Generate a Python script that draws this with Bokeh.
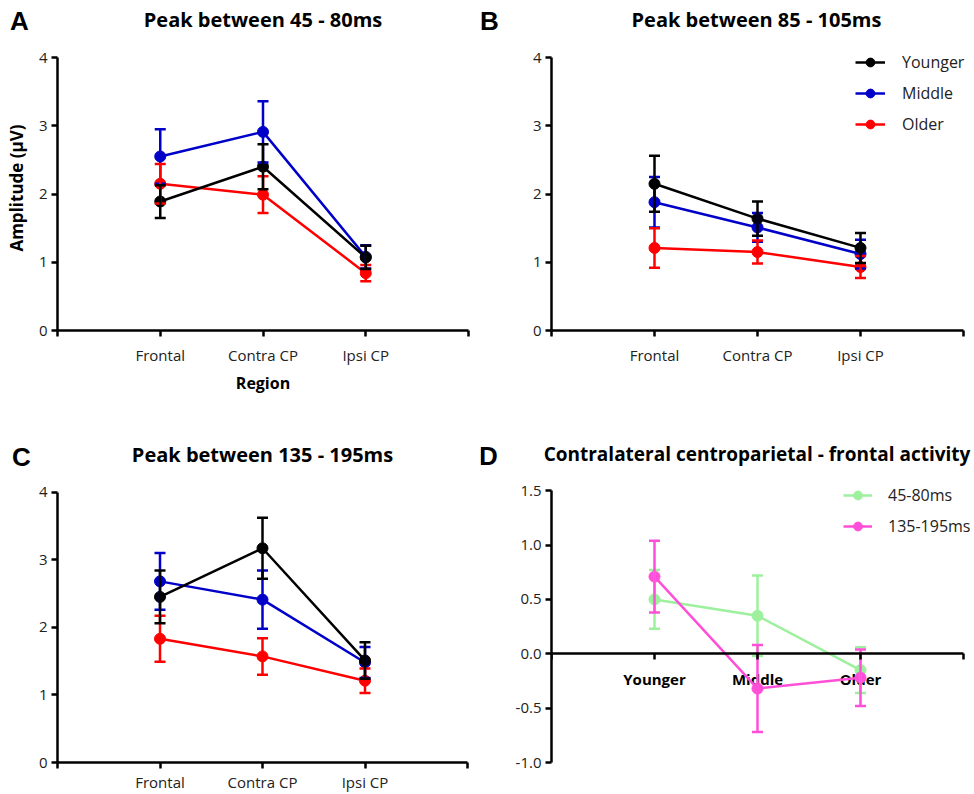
from bokeh.plotting import figure
from bokeh.models import (Range1d, FixedTicker, Whisker, TeeHead, ColumnDataSource,
                          Label, Legend, LegendItem, NumeralTickFormatter)
from bokeh.core.properties import value
from bokeh.layouts import column, row
from bokeh.embed import file_html
from bokeh.resources import INLINE

# ---------------- data ----------------
regions = ["Frontal", "Contra CP", "Ipsi CP"]
groups = ["Younger", "Middle", "Older"]

# Panel A: peak between 45 - 80 ms (mean, SEM)
younger_A = [1.89, 2.40, 1.07]
younger_A_se = [0.24, 0.33, 0.17]
middle_A = [2.55, 2.91, 1.08]
middle_A_se = [0.40, 0.45, 0.17]
older_A = [2.15, 1.99, 0.84]
older_A_se = [0.29, 0.27, 0.12]

# Panel B: peak between 85 - 105 ms
younger_B = [2.15, 1.64, 1.21]
younger_B_se = [0.41, 0.25, 0.22]
middle_B = [1.88, 1.51, 1.12]
middle_B_se = [0.37, 0.21, 0.21]
older_B = [1.21, 1.15, 0.93]
older_B_se = [0.29, 0.17, 0.16]

# Panel C: peak between 135 - 195 ms
younger_C = [2.45, 3.17, 1.51]
younger_C_se = [0.39, 0.45, 0.27]
middle_C = [2.68, 2.41, 1.48]
middle_C_se = [0.42, 0.43, 0.23]
older_C = [1.83, 1.57, 1.21]
older_C_se = [0.34, 0.27, 0.18]

# Panel D: contralateral centroparietal - frontal activity
windows_D = ["45-80ms", "135-195ms"]
diff_45_80 = [0.50, 0.35, -0.15]
diff_45_80_se = [0.27, 0.37, 0.21]
diff_135_195 = [0.71, -0.32, -0.22]
diff_135_195_se = [0.33, 0.40, 0.26]

amp_ticks = [0, 1, 2, 3, 4]
diff_ticks = [-1.0, -0.5, 0.0, 0.5, 1.0, 1.5]

titles = ["Peak between 45 - 80ms", "Peak between 85 - 105ms",
          "Peak between 135 - 195ms",
          "Contralateral centroparietal - frontal activity"]
letters = ["A", "B", "C", "D"]

# ---------------- style ----------------
group_colors = {"Younger": "#000000", "Middle": "#0000C8", "Older": "#FF0000"}
window_colors = {"45-80ms": "#9DF09D", "135-195ms": "#FF4FD8"}
TICK_FONT = "Open Sans"
TITLE_FONT = "Open Sans"
LETTER_FONT = "Liberation Sans"
LW = 2.5
NCAT = len(regions)


def header(w, h, letter, lx, ly, title, tx, ty, tsize):
    p = figure(width=w, height=h, x_range=Range1d(0, w), y_range=Range1d(h, 0),
               output_backend="svg", toolbar_location=None,
               x_axis_location=None, y_axis_location=None,
               min_border=0, min_border_left=0, min_border_right=0,
               min_border_top=0, min_border_bottom=0)
    p.grid.visible = False
    p.outline_line_color = None
    p.add_layout(Label(x=lx, y=ly, text=letter, text_align="center",
                       text_baseline="middle", text_font=LETTER_FONT,
                       text_font_size="26px", text_font_style="bold",
                       text_color="black"))
    p.add_layout(Label(x=tx, y=ty, text=title, text_align="center",
                       text_baseline="middle", text_font=TITLE_FONT,
                       text_font_size=tsize, text_font_style="bold",
                       text_color="black"))
    return p


def base_fig(w, h, left, right, top, bottom, x1, y0, y1, yb0, yb1, yticks):
    p = figure(width=w, height=h, x_range=Range1d(0, x1),
               y_range=Range1d(y0, y1), output_backend="svg",
               toolbar_location=None, min_border_left=left,
               min_border_right=right, min_border_top=top,
               min_border_bottom=bottom)
    p.xgrid.visible = False
    p.ygrid.visible = False
    p.outline_line_color = None
    for ax in (p.xaxis[0], p.yaxis[0]):
        ax.axis_line_width = LW
        ax.axis_line_color = "black"
        ax.major_tick_line_width = LW
        ax.major_tick_line_color = "black"
        ax.major_tick_out = 6
        ax.major_tick_in = 0
        ax.minor_tick_line_color = None
        ax.major_label_text_font = TICK_FONT
        ax.major_label_text_font_size = "15px"
        ax.major_label_text_color = "#222222"
    p.xaxis.ticker = FixedTicker(ticks=list(range(NCAT + 2)))
    p.xaxis.bounds = (0, NCAT + 1)
    p.yaxis.ticker = FixedTicker(ticks=yticks)
    p.yaxis.bounds = (yb0, yb1)
    p.yaxis.major_label_standoff = 4
    return p


def draw_series(p, ys, se, color):
    xs = [i + 1 for i in range(len(ys))]
    src = ColumnDataSource(dict(x=xs, y=ys,
                                upper=[a + b for a, b in zip(ys, se)],
                                lower=[a - b for a, b in zip(ys, se)]))
    wh = Whisker(base="x", upper="upper", lower="lower", source=src,
                 line_color=color, line_width=LW, level="glyph",
                 upper_head=TeeHead(size=11, line_color=color, line_width=LW),
                 lower_head=TeeHead(size=11, line_color=color, line_width=LW))
    p.add_layout(wh)
    ln = p.line("x", "y", source=src, line_color=color, line_width=LW)
    sc = p.scatter("x", "y", source=src, size=11, fill_color=color,
                   line_color=color)
    return ln, sc


def region_labels():
    d = {0: "", NCAT + 1: ""}
    for i, r in enumerate(regions):
        d[i + 1] = r
    return d


def group_panel(p, series):
    p.xaxis.major_label_overrides = region_labels()
    rends = {}
    for g in ["Middle", "Older", "Younger"]:
        ys, se = series[g]
        rends[g] = draw_series(p, ys, se, group_colors[g])
    return rends


def make_legend(items, loc, gw, standoff):
    return Legend(items=items, location=loc, padding=0, margin=0,
                  border_line_color=None, background_fill_alpha=0,
                  glyph_width=gw, glyph_height=22, label_height=22, spacing=9,
                  label_standoff=standoff, label_text_font=TICK_FONT,
                  label_text_font_size="16px", label_text_color="#222222")


# ---------------- headers ----------------
hA = header(480, 40, letters[0], 19, 20, titles[0], 262.5, 19, "20px")
hB = header(494, 40, letters[1], 9, 20, titles[1], 276, 19, "20px")
hC = header(480, 70, letters[2], 21, 56, titles[2], 262, 54, "20px")
hD = header(494, 70, letters[3], 8, 55, titles[3], 276.5, 53, "19px")

# ---------------- row 1: panels A and B ----------------
amp_scale1 = 68.25
top1 = 4 + 12 / amp_scale1
pA = base_fig(480, 360, 57, 12, 5, 70, NCAT + 1, 0, top1, 0, 4, amp_ticks)
group_panel(pA, {"Younger": (younger_A, younger_A_se),
                 "Middle": (middle_A, middle_A_se),
                 "Older": (older_A, older_A_se)})
pA.xaxis.major_label_standoff = 8
pA.yaxis.axis_label = "Amplitude (µV)"
pA.xaxis.axis_label = "Region"
for ax in (pA.xaxis[0], pA.yaxis[0]):
    ax.axis_label_text_font = TITLE_FONT
    ax.axis_label_text_font_style = "bold"
    ax.axis_label_text_color = "black"
pA.yaxis.axis_label_text_font_size = "17px"
pA.xaxis.axis_label_text_font_size = "16px"
pA.yaxis.axis_label_standoff = 8
pA.xaxis.axis_label_standoff = 4

pB = base_fig(494, 360, 71, 0, 5, 70, NCAT + 1 + 11 / 103.0,
              0, top1, 0, 4, amp_ticks)
rB = group_panel(pB, {"Younger": (younger_B, younger_B_se),
                      "Middle": (middle_B, middle_B_se),
                      "Older": (older_B, older_B_se)})
pB.xaxis.major_label_standoff = 8
pB.add_layout(make_legend(
    [LegendItem(label=g, renderers=list(rB[g])) for g in groups],
    (304, 195), 30, 17))

# ---------------- row 2: panels C and D ----------------
frame_h2 = 324 - 10 - 31
amp_scale2 = 67.83
pC = base_fig(480, 324, 57, 13, 10, 31, NCAT + 1, 0, frame_h2 / amp_scale2,
              0, 4, amp_ticks)
group_panel(pC, {"Younger": (younger_C, younger_C_se),
                 "Middle": (middle_C, middle_C_se),
                 "Older": (older_C, older_C_se)})
pC.xaxis.major_label_standoff = 3

d_scale = 109.1
pD = base_fig(494, 324, 71, 0, 10, 31, NCAT + 1 + 11 / 103.0,
              -1.0, -1.0 + frame_h2 / d_scale, -1.0, 1.5, diff_ticks)
pD.yaxis.formatter = NumeralTickFormatter(format="0.0")
pD.xaxis.fixed_location = 0
pD.xaxis.major_label_overrides = {t: "" for t in range(NCAT + 2)}
pD.xaxis.major_label_standoff = 0
dsrc = ColumnDataSource(dict(x=[i + 1 for i in range(len(groups))],
                             y=[0.0] * len(groups), t=groups))
pD.text("x", "y", text="t", source=dsrc, text_align="center",
        text_baseline="top", y_offset=15, text_font=value(TITLE_FONT),
        text_font_size="15px", text_font_style="bold", text_color="black")
rD = {}
rD["45-80ms"] = draw_series(pD, diff_45_80, diff_45_80_se, window_colors["45-80ms"])
rD["135-195ms"] = draw_series(pD, diff_135_195, diff_135_195_se, window_colors["135-195ms"])
pD.add_layout(make_legend(
    [LegendItem(label=wn, renderers=list(rD[wn])) for wn in windows_D],
    (292, 225), 29, 16))

layout = column(row(hA, hB), row(pA, pB), row(hC, hD), row(pC, pD))
open("out.html", "w").write(file_html(layout, INLINE))
